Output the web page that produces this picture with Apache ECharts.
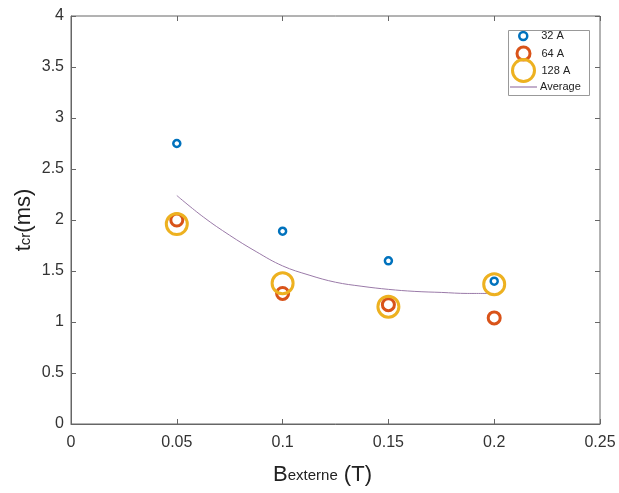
<!DOCTYPE html>
<html><head><meta charset="utf-8">
<script src="https://cdn.jsdelivr.net/npm/echarts@6/dist/echarts.min.js"></script>
<style>html,body{margin:0;padding:0;background:#fff}#c{width:619px;height:493px}</style>
</head><body><div id="c"></div>
<script>
const xCats = [0.05, 0.1, 0.15, 0.2];
const s32 = [2.75, 1.89, 1.60, 1.40];
const s64 = [2.00, 1.28, 1.17, 1.04];
const s128 = [1.96, 1.38, 1.15, 1.37];
const avgX = [0.05, 0.0625, 0.075, 0.0875, 0.1, 0.1125, 0.125, 0.1375, 0.15, 0.1625, 0.175, 0.1875, 0.2];
const avgY = [2.24, 2.03, 1.85, 1.69, 1.55, 1.46, 1.39, 1.35, 1.32, 1.30, 1.29, 1.28, 1.28];
const xTicks = [0, 0.05, 0.1, 0.15, 0.2, 0.25];
const yTicks = [0, 0.5, 1, 1.5, 2, 2.5, 3, 3.5, 4];

const pair = (xs, ys) => xs.map((x, i) => [x, ys[i]]);
const font = 'Liberation Sans, Arial, sans-serif';
const axisCol = '#666';
const lblCol = '#333';
const tick = () => ({ show: true, inside: true, length: 5, lineStyle: { color: axisCol } });
const C32 = '#0072BD', C64 = '#D95319', C128 = '#EDB120', CAVG = '#9a7aa8';

const chart = echarts.init(document.getElementById('c'));
const legText = pad => ({ fontFamily: font, fontSize: 11, color: '#222', padding: [0, 0, 0, pad] });
chart.setOption({
  animation: false,
  grid: { left: 71, right: 19, top: 16, bottom: 69, show: true, borderColor: axisCol, borderWidth: 1 },
  xAxis: [{
    type: 'value', min: 0, max: 0.25, interval: 0.05,
    axisLine: { lineStyle: { color: axisCol } }, axisTick: tick(), splitLine: { show: false },
    axisLabel: { color: lblCol, fontFamily: font, fontSize: 16, margin: 11, formatter: v => String(+v.toFixed(2)) },
    name: '{b|B}{s|externe}{b| (T)}', nameLocation: 'middle', nameGap: 40, nameMoveOverlap: false,
    nameTextStyle: { padding: [0, 26, 0, 0], rich: { b: { fontSize: 22, fontFamily: font, color: '#222' }, s: { fontSize: 15, fontFamily: font, color: '#222', padding: [0, 0, -2, 0] } } }
  }, {
    type: 'value', min: 0, max: 0.25, interval: 0.05, position: 'top',
    axisLine: { show: false, onZero: false }, axisTick: tick(), axisLabel: { show: false }, splitLine: { show: false }
  }],
  yAxis: [{
    type: 'value', min: 0, max: 4, interval: 0.5,
    axisLine: { show: true, lineStyle: { color: axisCol } }, axisTick: tick(), splitLine: { show: false },
    axisLabel: { color: lblCol, fontFamily: font, fontSize: 16, margin: 7, formatter: v => String(+v.toFixed(1)) },
    name: '{b|t}{s|cr}{b|(ms)}', nameLocation: 'middle', nameGap: 36, nameRotate: 90, nameMoveOverlap: false,
    nameTextStyle: { rich: { b: { fontSize: 22, fontFamily: font, color: '#222' }, s: { fontSize: 15, fontFamily: font, color: '#222', padding: [0, 0, -3, 0] } } }
  }, {
    type: 'value', min: 0, max: 4, interval: 0.5, position: 'right',
    axisLine: { show: false, onZero: false }, axisTick: tick(), axisLabel: { show: false }, splitLine: { show: false }
  }],
  legend: [
    { data: [{ name: '32 A', icon: 'circle', itemStyle: { color: 'transparent', borderColor: C32, borderWidth: 2.5 } }],
      left: 518, top: 30.5, itemWidth: 8, itemHeight: 8, padding: 0, textStyle: legText(9), selectedMode: false },
    { data: [{ name: '64 A', icon: 'circle', itemStyle: { color: 'transparent', borderColor: C64, borderWidth: 3 } }],
      left: 515.5, top: 45.5, itemWidth: 13, itemHeight: 13, padding: 0, textStyle: legText(6.5), selectedMode: false },
    { data: [{ name: '128 A', icon: 'circle', itemStyle: { color: 'transparent', borderColor: C128, borderWidth: 3 } }],
      left: 511, top: 58, itemWidth: 22, itemHeight: 22, padding: 0, textStyle: legText(2), selectedMode: false },
    { data: [{ name: 'Average', icon: 'rect', itemStyle: { color: CAVG } }],
      left: 510, top: 81.5, itemWidth: 27, itemHeight: 1.2, padding: 0, textStyle: legText(-2), selectedMode: false }
  ],
  graphic: [{ type: 'rect', left: 506, top: 28, shape: { width: 81, height: 65 }, style: { fill: 'none', stroke: '#999', lineWidth: 1 }, z: 100 }],
  series: [
    { name: 'Average', type: 'line', data: pair(avgX, avgY), smooth: 0.4, showSymbol: false, symbol: 'none',
      lineStyle: { color: CAVG, width: 1 }, itemStyle: { color: CAVG }, z: 1 },
    { name: '32 A', type: 'scatter', data: pair(xCats, s32), symbol: 'circle', symbolSize: 7,
      itemStyle: { color: 'transparent', borderColor: C32, borderWidth: 2.5, opacity: 1 }, z: 3 },
    { name: '64 A', type: 'scatter', data: pair(xCats, s64), symbol: 'circle', symbolSize: 12,
      itemStyle: { color: 'transparent', borderColor: C64, borderWidth: 3, opacity: 1 }, z: 3 },
    { name: '128 A', type: 'scatter', data: pair(xCats, s128), symbol: 'circle', symbolSize: 21,
      itemStyle: { color: 'transparent', borderColor: C128, borderWidth: 3, opacity: 1 }, z: 3 }
  ]
});
</script></body></html>
